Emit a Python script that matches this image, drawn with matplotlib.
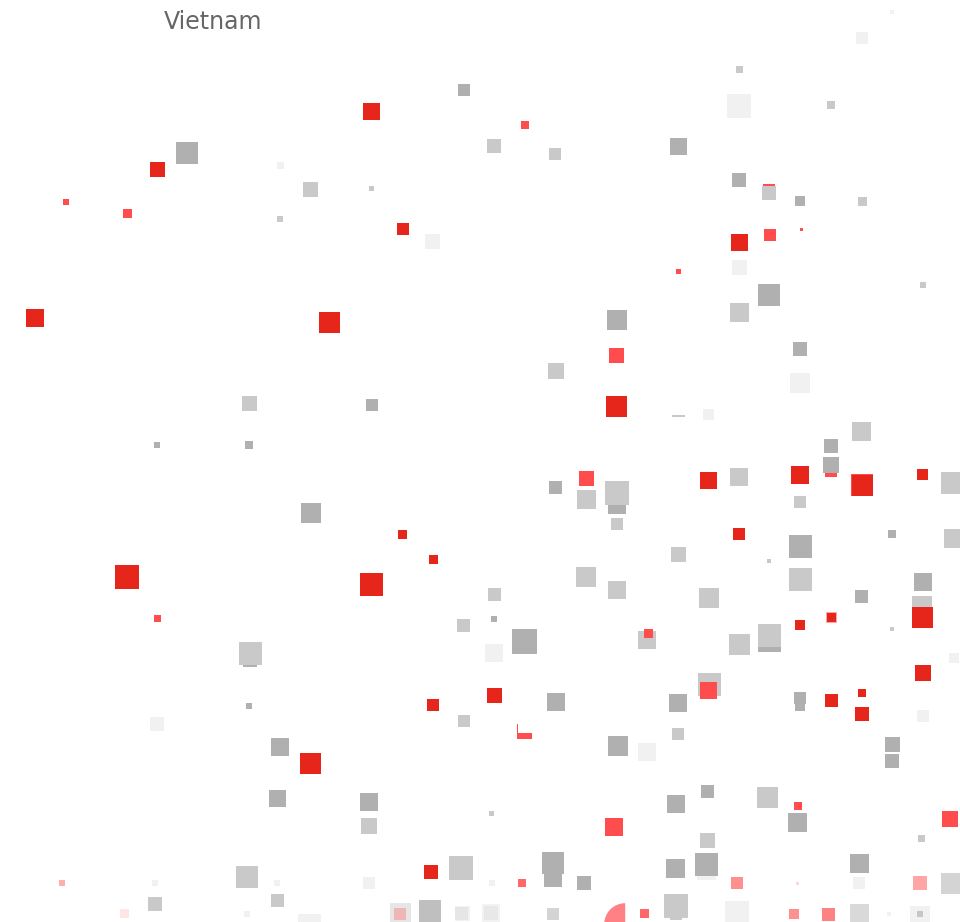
import numpy as np
import matplotlib
matplotlib.use("Agg")
import matplotlib.pyplot as plt
from matplotlib.patches import Wedge

COUNTRY = "Vietnam"

# Each series: horizontal position, vertical position, side of the square
under_x = [831, 769]
under_y = [471, 190]
under_s = [12, 12]

light_under_x = [706]
light_under_y = [870]
light_under_s = [19]

dark_x = [464, 187, 678, 739, 800, 769, 617, 800, 372, 157, 249, 831, 831, 555, 617, 311, 892, 800,
          923, 861, 494, 524, 769, 250, 800, 800, 556, 678, 249, 280, 618, 892, 892, 277, 707, 369,
          676, 797, 491, 553, 553, 584, 675, 706, 859]
dark_y = [90, 153, 146, 180, 201, 295, 320, 349, 405, 445, 445, 446, 465, 487, 505, 513, 534, 546,
          582, 596, 619, 641, 640, 660, 698, 706, 702, 703, 706, 747, 746, 744, 761, 798, 791, 802,
          804, 822, 813, 878, 863, 883, 868, 864, 863]
dark_s = [12, 22, 17, 14, 10, 22, 20, 14, 12, 6, 8, 14, 16, 13, 18, 20, 8, 23,
          18, 13, 6, 25, 23, 14, 12, 10, 18, 18, 6, 18, 20, 15, 14, 17, 13, 18,
          18, 19, 5, 18, 22, 14, 19, 23, 19]

mid_x = [739, 831, 494, 555, 769, 310, 371, 862, 280, 923, 739, 556, 249, 861, 739, 586, 617, 800,
         952, 617, 953, 678, 769, 586, 617, 800, 709, 494, 463, 922, 892, 647, 739, 769, 250, 709,
         464, 678, 921, 707, 767, 369, 247, 461, 155, 277, 676, 676, 491]
mid_y = [69, 105, 146, 154, 193, 189, 188, 201, 219, 285, 312, 371, 403, 431, 477, 499, 493, 502,
         483, 524, 538, 554, 561, 577, 590, 579, 598, 594, 625, 606, 629, 640, 644, 635, 653, 684,
         721, 734, 838, 840, 797, 826, 877, 868, 904, 900, 914, 906, 813]
mid_s = [7, 8, 14, 12, 14, 15, 5, 9, 6, 6, 19, 16, 15, 19, 18, 19, 24, 12,
         22, 12, 19, 15, 4, 20, 18, 23, 20, 13, 13, 20, 4, 18, 21, 23, 23, 23,
         12, 12, 7, 15, 21, 16, 22, 24, 14, 13, 12, 24, 5]

light_x = [892, 862, 739, 280, 432, 739, 800, 708, 494, 954, 157, 923, 647, 369, 155, 277, 492, 859,
           737, 309, 889, 247, 920]
light_y = [12, 38, 106, 165, 241, 267, 383, 414, 653, 658, 724, 716, 752, 883, 883, 883, 883, 883,
           913, 925, 914, 914, 916]
light_s = [4, 12, 24, 7, 15, 15, 20, 11, 18, 10, 14, 12, 18, 12, 6, 6, 6, 12,
           24, 23, 4, 6, 20]

bright_x = [525, 66, 127, 770, 801, 678, 616, 586, 157, 648, 708, 524, 614, 950, 798]
bright_y = [125, 202, 213, 235, 229, 271, 355, 478, 618, 633, 690, 731, 827, 819, 806]
bright_s = [8, 6, 9, 12, 3, 5, 15, 15, 7, 9, 17, 15, 18, 16, 8]

red_halo_x = [862, 831]
red_halo_y = [485, 617]
red_halo_s = [23, 11]
red_halo_alpha = [1.0, 0.5]

red_x = [371, 157, 403, 739, 35, 329, 616, 708, 800, 862, 922, 739, 402, 433, 127, 371, 922, 800,
         831, 923, 433, 494, 831, 862, 862, 310, 431]
red_y = [111, 169, 229, 242, 318, 322, 406, 480, 475, 485, 474, 534, 534, 559, 577, 584, 617, 625,
         617, 673, 705, 695, 700, 693, 714, 763, 872]
red_s = [17, 15, 12, 17, 18, 21, 21, 17, 18, 21, 11, 12, 9, 9, 24, 23, 21, 10,
         9, 16, 12, 15, 13, 8, 14, 21, 14]

# White squares lying over part of an earlier mark
cover_x = [525, 678]
cover_y = [725.5, 407.5]
cover_s = [15, 15]
clipped_gray_x = [678]
clipped_gray_y = [410]
clipped_gray_s = [13]

# Fading marks of the lowest rows, with their grey level or red opacity
fade_gray_x = [400, 462, 491, 859, 951, 553, 430, 461, 491, 920]
fade_gray_y = [913, 913, 913, 913, 883, 914, 911, 913, 913, 914]
fade_gray_s = [21, 15, 18, 19, 21, 12, 23, 13, 14, 6]
fade_gray_tone = [0.90, 0.95, 0.95, 0.85, 0.83, 0.83, 0.75, 0.90, 0.91, 0.78]

fade_red_x = [62, 124, 400, 737, 797, 920, 522, 644, 794, 828]
fade_red_y = [883, 913, 914, 883, 883, 883, 883, 913, 914, 914]
fade_red_s = [6, 9, 12, 12, 3, 14, 8, 9, 10, 13]
fade_red_alpha = [0.45, 0.14, 0.30, 0.62, 0.22, 0.50, 0.85, 0.85, 0.62, 0.70]

wedge_center = (625, 924)
wedge_radius = 21

DARK = "#B0B0B0"
MID = "#C9C9C9"
LIGHT = "#F1F1F1"
BRIGHT = "#FF4D4D"
RED = "#E6261A"

fig = plt.figure(figsize=(9.6, 9.22), dpi=100)
ax = fig.add_axes([0, 0, 1, 1])
ax.set_xlim(-0.2, 959.8)
ax.set_ylim(921.8, -0.2)
ax.axis("off")


def squares(x, y, side, color, z, alpha=None):
    area = (np.asarray(side, dtype=float) * 72 / fig.dpi) ** 2
    ax.scatter(x, y, s=area, marker="s", c=color, linewidths=0, zorder=z, alpha=alpha)


squares(under_x, under_y, under_s, BRIGHT, 1)
squares(light_under_x, light_under_y, light_under_s, LIGHT, 1)
squares(dark_x, dark_y, dark_s, DARK, 2)
squares(clipped_gray_x, clipped_gray_y, clipped_gray_s, MID, 2)
squares(mid_x, mid_y, mid_s, MID, 3)
squares(light_x, light_y, light_s, LIGHT, 4)
squares(bright_x, bright_y, bright_s, BRIGHT, 5)
squares(cover_x, cover_y, cover_s, "white", 6)
for x, y, s, a in zip(red_halo_x, red_halo_y, red_halo_s, red_halo_alpha):
    squares([x], [y], [s], BRIGHT, 7, alpha=a)
squares(red_x, red_y, red_s, RED, 8)
for x, y, s, tone, z in zip(fade_gray_x, fade_gray_y, fade_gray_s, fade_gray_tone,
                            [4.1, 4.1, 4.1, 4.1, 4.1, 4.1, 4.1, 4.2, 4.2, 5]):
    squares([x], [y], [s], str(tone), z)
for x, y, s, a in zip(fade_red_x, fade_red_y, fade_red_s, fade_red_alpha):
    squares([x], [y], [s], BRIGHT, 6, alpha=a)

ax.add_patch(Wedge(wedge_center, wedge_radius, 180, 270, facecolor="#FF8085", linewidth=0, zorder=6))

ax.text(163.5, 28.5, COUNTRY, fontsize=17, color="#666666", family="DejaVu Sans",
        ha="left", va="baseline")

fig.savefig("out.png", dpi=100)
